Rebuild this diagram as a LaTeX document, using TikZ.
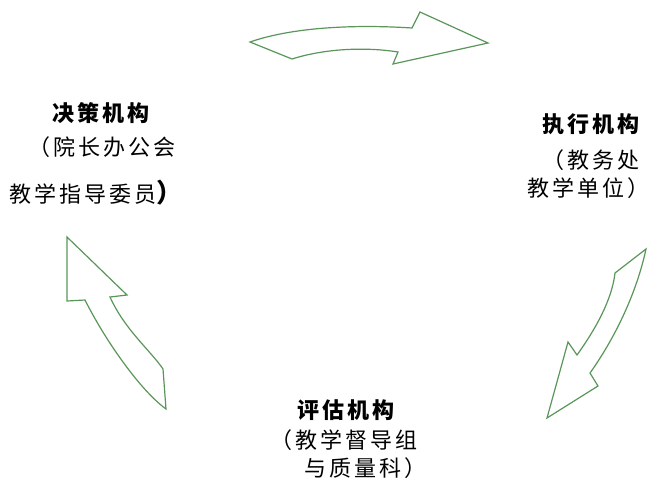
\documentclass[tikz,border=0pt]{standalone}
\usepackage{fontspec}
\newfontfamily\cjk[LetterSpace=14]{Noto Sans CJK SC}
\newfontfamily\cjkplain{Noto Sans CJK SC}
\begin{document}
\begin{tikzpicture}[x=1pt,y=-1pt,
  bigarrow/.style={draw=arrowgreen,fill=white,line width=1.2pt,line join=miter},
  lbl/.style={anchor=west,inner sep=0pt,font=\cjk\fontsize{22}{26}\selectfont},
  head/.style={lbl,font=\cjk\bfseries\fontsize{22}{26}\selectfont}]
\definecolor{arrowgreen}{RGB}{90,150,90}
\useasboundingbox (0,0) rectangle (653,482);
\fill[white] (0,0) rectangle (653,482);
% top arrow
\draw[bigarrow] (250,42) .. controls (290,28) and (350,24) .. (412,28) -- (420,12) -- (488,43) -- (393,64) -- (398,52)
  .. controls (360,46) and (320,50) .. (292,59) -- cycle;
% right arrow
\draw[bigarrow] (646,249) -- (615,273) .. controls (612,300) and (595,330) .. (577,355) -- (568,342) -- (547,418) -- (598,386) -- (590,373)
  .. controls (610,345) and (635,300) .. (646,249) -- cycle;
% left arrow
\draw[bigarrow] (67,237) -- (127,295) -- (110,297) .. controls (125,330) and (150,350) .. (163,369) -- (166,409)
  .. controls (140,390) and (105,340) .. (85,300) -- (67,301) -- cycle;
% left texts
\node[head] (l1) at (52,113) {决策机构};
\node[lbl] (l2) at (28,147) {（院长办公会};
\node[lbl] (l3) at (9,193) {教学指导委员{\cjkplain\bfseries\fontsize{26}{26}\selectfont ）}};
% right texts
\node[head] (r1) at (542,124) {执行机构};
\node[lbl] (r2) at (542,160) {（教务处};
\node[lbl] (r3) at (527,188) {教学单位）};
% bottom texts
\node[head] (b1) at (297,410) {评估机构};
\node[lbl] (b2) at (270,440) {（教学督导组};
\node[lbl] (b3) at (304,468) {与质量科）};
\end{tikzpicture}
\end{document}
